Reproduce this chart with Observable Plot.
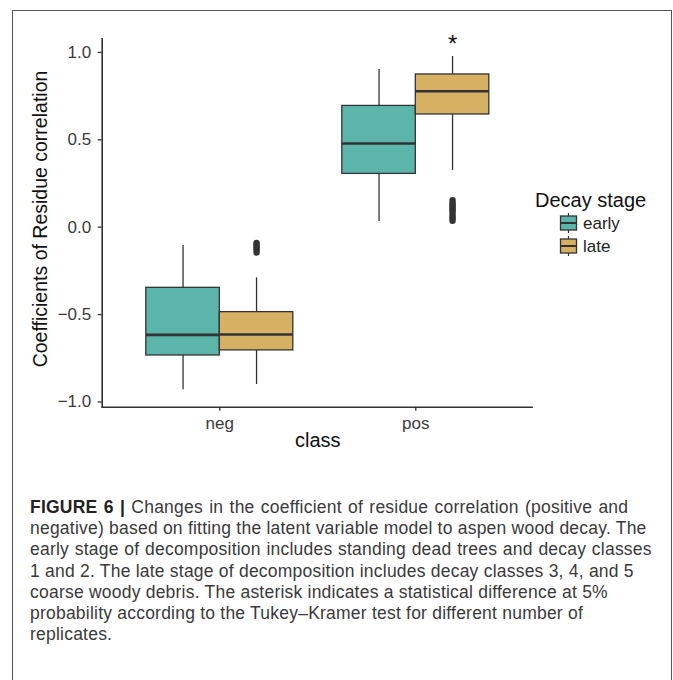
<!DOCTYPE html>
<html>
<head>
<meta charset="utf-8">
<script src="https://cdn.jsdelivr.net/npm/d3@7"></script>
<script src="https://cdn.jsdelivr.net/npm/@observablehq/plot@0.6"></script>
<style>
  html, body { margin: 0; padding: 0; background: #fff; }
  body { width: 673px; height: 680px; position: relative; overflow: hidden; font-family: "Liberation Sans", Arial, sans-serif; }
  #frame { position: absolute; left: 12px; top: 10px; width: 660px; height: 700px; border: 1.6px solid #555; box-sizing: border-box; }
  #chart { position: absolute; left: 0; top: 0; }
  #legend { position: absolute; left: 520px; top: 180px; }
  #caption { position: absolute; left: 30px; top: 497px; width: 640px; font-size: 17.5px; line-height: 21.2px; color: #3a3a3a; white-space: nowrap; letter-spacing: 0.22px; }
  #caption b { color: #222; }
  #caption .w1 { word-spacing: 1.2px; }
  #caption .w3 { word-spacing: 0.6px; }
</style>
</head>
<body>
<div id="frame"></div>
<div id="chart"></div>
<div id="legend"></div>
<div id="caption"><span class="w1"><b>FIGURE 6 |</b> Changes in the coefficient of residue correlation (positive and</span><br>negative) based on fitting the latent variable model to aspen wood decay. The<br><span class="w3">early stage of decomposition includes standing dead trees and decay classes</span><br>1 and 2. The late stage of decomposition includes decay classes 3, 4, and 5<br>coarse woody debris. The asterisk indicates a statistical difference at 5%<br>probability according to the Tukey–Kramer test for different number of<br>replicates.</div>
<script>
// ---- data ----
const classes = ["neg", "pos"];
const stages = ["early", "late"];
const stageColors = ["#5cb5aa", "#d7b163"];
const yTicks = [-1.0, -0.5, 0.0, 0.5, 1.0];

const boxClass = ["neg", "neg", "pos", "pos"];
const boxStage = ["early", "late", "early", "late"];
const whiskerLow = [-0.930, -0.900, 0.033, 0.325];
const q1 = [-0.734, -0.705, 0.305, 0.645];
const median = [-0.616, -0.614, 0.479, 0.778];
const q3 = [-0.347, -0.486, 0.694, 0.874];
const whiskerHigh = [-0.105, -0.290, 0.902, 0.977];

const outlierClass = ["neg","neg","neg","neg","neg","neg",
  "pos","pos","pos","pos","pos","pos","pos","pos","pos","pos","pos"];
const outlierStage = ["late","late","late","late","late","late",
  "late","late","late","late","late","late","late","late","late","late","late"];
const outlierValue = [-0.09, -0.10, -0.11, -0.12, -0.13, -0.145,
  0.155, 0.14, 0.13, 0.12, 0.11, 0.10, 0.09, 0.075, 0.06, 0.05, 0.037];

const sigClass = ["pos"];
const sigStage = ["late"];
const sigLabel = ["*"];
const sigY = [1.075];

const xLabel = "class";
const yLabel = "Coefficients of Residue correlation";
const legendTitle = "Decay stage";

// ---- tables ----
const boxes = boxClass.map((c, i) => ({
  cls: c, stage: boxStage[i], lo: whiskerLow[i], q1: q1[i], med: median[i], q3: q3[i], hi: whiskerHigh[i]
}));
const outliers = outlierValue.map((v, i) => ({cls: outlierClass[i], stage: outlierStage[i], v}));
const sigs = sigLabel.map((t, i) => ({cls: sigClass[i], stage: sigStage[i], t, y: sigY[i]}));

// ---- layout ----
const W = 673, H = 470;
const mL = 101.7, mR = 140.1, mT = 38.3, mB = H - 406.7;
const pInner = 0.25, pOuter = 0.225;
const step = (W - mL - mR) / (classes.length - pInner + 2 * pOuter);
const bw = step * (1 - pInner);
const half = bw / 2;
const off = bw / 4;
const ink = "#333";

const color = Plot.scale({color: {domain: stages, range: stageColors}});

function stageMarks(st, sign) {
  const b = boxes.filter(d => d.stage === st);
  const o = outliers.filter(d => d.stage === st);
  const ins = sign < 0 ? {insetRight: half} : {insetLeft: half};
  return [
    Plot.ruleX(b, {x: "cls", y1: "lo", y2: "q1", dx: sign * off, stroke: ink, strokeWidth: 1.3}),
    Plot.ruleX(b, {x: "cls", y1: "q3", y2: "hi", dx: sign * off, stroke: ink, strokeWidth: 1.3}),
    Plot.barY(b, {x: "cls", y1: "q1", y2: "q3", fill: d => color.apply(d.stage), stroke: ink, strokeWidth: 1.3, ...ins}),
    Plot.tickY(b, {x: "cls", y: "med", stroke: ink, strokeWidth: 2.6, ...ins}),
    Plot.dot(o, {x: "cls", y: "v", dx: sign * off, r: 3.2, fill: ink, stroke: "none"})
  ];
}

const chart = Plot.plot({
  width: W, height: H,
  marginLeft: mL, marginRight: mR, marginTop: mT, marginBottom: mB,
  style: {fontFamily: "Liberation Sans, Arial, sans-serif", background: "transparent", overflow: "visible"},
  x: {domain: classes, paddingInner: pInner, paddingOuter: pOuter, align: 0.5, round: false, axis: null},
  y: {domain: [-1.030, 1.078], axis: null},
  marks: [
    Plot.ruleY([-1.030], {stroke: ink, strokeWidth: 1.6}),
    Plot.frame({anchor: "left", stroke: ink, strokeWidth: 1.6}),
    Plot.axisY({ticks: yTicks, tickFormat: d3.format(".1f"), tickSize: 4, tickPadding: 7, fontSize: 17, color: "#3a3a3a", stroke: ink, strokeWidth: 1.3, label: null}),
    Plot.axisX({tickSize: 4, tickPadding: 6, fontSize: 17, color: "#3a3a3a", stroke: ink, strokeWidth: 1.3, label: null}),
    Plot.text([xLabel], {frameAnchor: "bottom", dy: 40, fontSize: 20, fill: "#111"}),
    Plot.text([yLabel], {frameAnchor: "left", textAnchor: "middle", rotate: -90, dx: -61, dy: -4, fontSize: 19.5, fill: "#111"}),
    ...stageMarks("early", -1),
    ...stageMarks("late", 1),
    Plot.text(sigs, {x: "cls", y: "y", text: "t", dx: off, dy: 5, fontSize: 24, fill: "#111"})
  ]
});
document.getElementById("chart").appendChild(chart);

// ---- legend (ggplot-style boxplot keys) ----
const lg = d3.select("#legend").append("svg").attr("width", 150).attr("height", 90)
  .style("font-family", "Liberation Sans, Arial, sans-serif");
lg.append("text").attr("x", 15).attr("y", 27).attr("font-size", 20).attr("fill", "#111").text(legendTitle);
stages.forEach((s, i) => {
  const cy = 43 + i * 23;
  const g = lg.append("g").attr("transform", `translate(40,${cy})`);
  g.append("line").attr("x1", 8.5).attr("x2", 8.5).attr("y1", -10).attr("y2", 10).attr("stroke", ink).attr("stroke-width", 1.2);
  g.append("rect").attr("x", 0.5).attr("y", -7).attr("width", 16).attr("height", 14)
    .attr("fill", stageColors[i]).attr("stroke", ink).attr("stroke-width", 1.3);
  g.append("line").attr("x1", 0.5).attr("x2", 16.5).attr("y1", 0).attr("y2", 0).attr("stroke", ink).attr("stroke-width", 2);
  lg.append("text").attr("x", 63).attr("y", cy).attr("dy", "0.35em").attr("font-size", 17).attr("fill", "#222").text(s);
});
</script>
</body>
</html>
